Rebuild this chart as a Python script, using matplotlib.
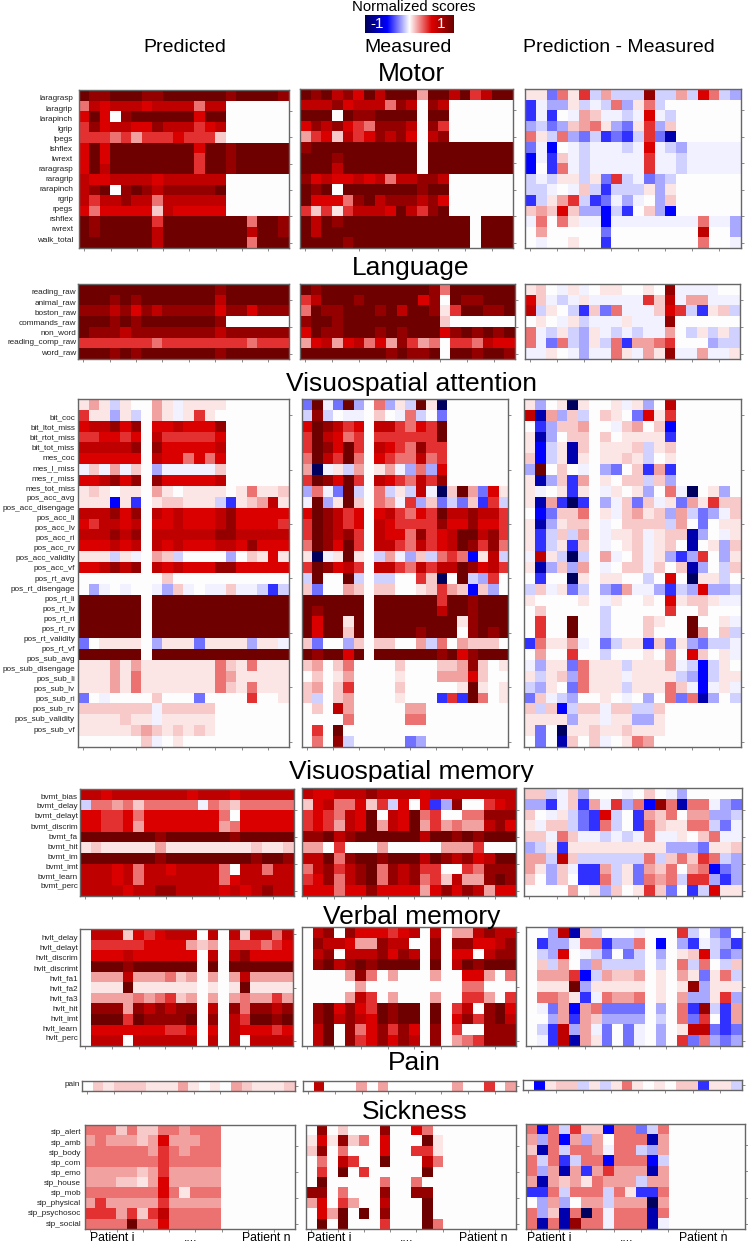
import numpy as np
import matplotlib
matplotlib.use("Agg")
import matplotlib.pyplot as plt
from matplotlib.colors import LinearSegmentedColormap
from matplotlib.transforms import Bbox

plt.rcParams['font.family'] = ['Liberation Sans', 'DejaVu Sans']

# Cell levels, one character per cell, one string per row
LEVELS = {'0': 0, '1': .053, '2': .108, '3': .186, '4': .28, '5': .405, '6': .5, '7': .625, '8': .82, '9': .98,
          'a': -.03, 'b': -.09, 'c': -.167, 'd': -.28, 'e': -.405, 'f': -.5, 'g': -.74, 'h': -.98}

motor_labels = ['laragrasp', 'laragrip', 'larapinch', 'lgrip', 'lpegs', 'lshflex', 'lwrext', 'raragrasp',
                'raragrip', 'rarapinch', 'rgrip', 'rpegs', 'rshflex', 'rwrext', 'walk_total']
motor_pred = ['98899988999999899998', '47677767777477', '69608999999699', '58677668777567', '55545355565552',
              '69699999999699899999', '69699999999599899999', '69799999999599899999', '76677776777777',
              '78908987888889', '75778774777777', '64666662766666', '98999995999999994998',
              '98999997999999997998', '99999997999999994999']
motor_meas = ['98978697999399795799', '77786777487087', '99909889999099', '68786548887085', '35627568786078',
              '89999999999099999999', '99989999999099999999', '99979999999099999999', '86766767477887',
              '98909999999899', '96664897888786', '52515777697589', '97989999999999990999',
              '97999999999999990999', '99998999999999990999']
motor_diff = ['11d415b3bbb8bb3b64bc', 'eacc1bab4c14b', 'eae0a32aaba6ab', 'cbdc2341cd15c2', '41b4cdbedeb5dg',
              'daf0abaaaba6abcaaaaa', 'fae2abaaaaa5aabaaaaa', 'f0e4abaaaaa5aabaaaaa', 'bab11b1d5badcb',
              'bba0a2bebbb1c1', 'eb135bedaca0c2', '23262ccfbe02cf', 'a4041aafaaaaaaaa4aac',
              '0300000d00000000700c', '0a00100e00000000400a']

language_labels = ['reading_raw', 'animal_raw', 'boston_raw', 'commands_raw', 'non_word', 'reading_comp_raw', 'word_raw']
language_pred = ['99999999999998999999', '99989899999997999999', '88878687888886886888', '99989899999998',
                 '98887888888887888888', '55555554555555554555', '99989899999998999999']
language_meas = ['98999999999984999999', '57999899999680988999', '49889998979981599889', '89989999999992',
                 '69889998989996898989', '36736746385340554766', '99999999898890998998']
language_diff = ['120a1a01100108aaaa00', '62aba1aaaaa527a33aaa', '7b10be2d4aaa265be12b', '010a1baaa1aaa8',
                 '4ab1bc1ababaa30b1b1b', '4ad4bc1b4e3345000cbb', 'aa10acaa41a318aa3aa1']

attention_labels = ['bit_coc', 'bit_ltot_miss', 'bit_rtot_miss', 'bit_tot_miss', 'mes_coc', 'mes_l_miss', 'mes_r_miss',
                    'mes_tot_miss', 'pos_acc_avg', 'pos_acc_disengage', 'pos_acc_li', 'pos_acc_lv', 'pos_acc_ri',
                    'pos_acc_rv', 'pos_acc_validity', 'pos_acc_vf', 'pos_rt_avg', 'pos_rt_disengage', 'pos_rt_li',
                    'pos_rt_lv', 'pos_rt_ri', 'pos_rt_rv', 'pos_rt_validity', 'pos_rt_vf', 'pos_sub_avg',
                    'pos_sub_disengage', 'pos_sub_li', 'pos_sub_lv', 'pos_sub_ri', 'pos_sub_rv', 'pos_sub_validity',
                    'pos_sub_vf']
attention_pred = ['131b10031a1111', '511c1b031a1510', '67786806676668', '55665607555556', '77777808666667',
                  '66666607664646', 'a2a3a20caaaaa2', '66786808666667', '12101103101111014112',
                  '111f1e0122111be12371', '77786807676667866666', '65776706676667866665',
                  '77787807777778877777', '66676707676667768666', '111b1a032b0000c02161',
                  '66787807676668866666', '00000000200000000000', '0ca0a00ac2a0aa2aabeb',
                  '99999909999999999999', '99999909999999999999', '99999909999999999999',
                  '99999909999999999999', 'd011110c111d1111c11a', '99999909999999999999',
                  '11131311111114214111', '11131411111114311111', '11131411111114214111',
                  'd0a00002000d00005001', '2222222a22222', '1111211a11111', '1111123212121', '0000002a01']
attention_meas = ['d9ad9c04c1b91h', 'b8b0aa020a4b0d', '69875607754659', '59764505555559', '59869507654855',
                  '49759406544745', '3ha1b3013ac4c6', '59869507654758', 'c4ad9b04b1b7ah293d61',
                  'a9c192043a5c2dbd2e5b', '69875606754659778775', '59875607655558668665',
                  '59878507664856799785', '49869507754756798584', '1ha1910b3ac2b454f17b',
                  '59867507754757798675', 'b9009b0bb0052h09bc50', '2d00320220012532f2c0',
                  '99999909999995998999', '98999909999997998999', '96991909999999918999',
                  '96992909999899908989', '2d00c2022003b4032220', '98996909999998968999',
                  '23024000020002238201', '02013000010003336200', '23025000020000019101',
                  '2b02300001000e5e9401', '020730000033', '000040000044', '0509', '0408b00000dc']
attention_diff = ['1c01h1001a1c07', '7g3c2b0210d615', '0ec22300a2302f', '1gc0220201111e', '1fb1g201112b12',
                  '2fb1g101121b01', 'c9020a0cd02e3e', '1gc2e301022b2c', '1a01e10a101c04ah01c0',
                  '1g3ehe0ca2d2a1d31522', '0fd22401a2312c3bdca2', '1gc1220a02222b30d011',
                  '1eb2b30a112a122gc0a1', '1eb1e20a012a120g01c2', 'a71bhb03a02a1cec50c1',
                  '1gc2c30a022a202gc0b2', '0e00h101100b060h11b0', 'b2a1db0cd3aacebc6ccb',
                  '1000010a1001061221aa', '0200000b000005002000', '0500900b00021009001a',
                  '0500900b00020009302b', 'e4113a0db11e2d1cdbba', '0300500b00010306201a',
                  'ac11d4111b1113abfb10', '1b12c4111a1111bcfb11', 'bc10d4111b11142afa1a',
                  'd2abc0010a0c04d4gc0b', '2b2fb22a22bb2', '1111c11a11cc1', '1d0h112112111', '0d0g202a01430']

bvmt_labels = ['bvmt_bias', 'bvmt_delay', 'bvmt_delayt', 'bvmt_discrim', 'bvmt_fa', 'bvmt_hit', 'bvmt_im',
               'bvmt_imt', 'bvmt_learn', 'bvmt_perc']
bvmt_pred = ['77677777776777677777', 'b4434244444a43244444', '66556466666664066666', '66556366666663466666',
             '99999998999999899999', '12111113111111112112', '99999998999999998998', '77767477677774077477',
             '77767477777774677777', '77776778877776767877']
bvmt_meas = ['76677787777677777777', '26744625b606ec800567', '56547690769450044888', '56537693769353433786',
             '88978999999799898999', '33050003000003335000', '77948998999798786799', '47857894878550054888',
             '56847894878452733898', '66646686666368687366']
bvmt_diff = ['22ba2c000a020ac00000', 'ccea2e3a5c4f84g44acd', '20a1bde6b0e324033ccb', '1a22bde4b0e421144bda',
             '22a42aababa4aa1024aa', 'cb1e111111111cccd112', '33b72bbbbbb4b24254bc', '31c2aee3b1d324034fdc',
             '20c20ee4b1d434b55cec', '0000301c20152d0eb611']

hvlt_labels = ['hvlt_delay', 'hvlt_delayt', 'hvlt_discrim', 'hvlt_discrimt', 'hvlt_fa1', 'hvlt_fa2', 'hvlt_fa3',
               'hvlt_hit', 'hvlt_imt', 'hvlt_learn', 'hvlt_perc']
hvlt_pred = ['07772656777070727747', '05555566663230555456', '06667666666070786666', '09998999999090999999',
             '03337333423030373333', '01119111111010191111', '03333434523030343353', '08883878788070848878',
             '09995988889080759989', '06666666556060766656', '07770777777070707777']
hvlt_meas = ['07808666567070337877', '08776338770080886678', '07807778687080660788', '08978989999090798999',
             '00003840300030066304', '00000300000000044000', '00003750300030055305', '08968659899090570896',
             '08978769899090685897', '07908468586080500888', '07908568687080345888']
hvlt_diff = ['00c7g2b000a0005b0cd0', '0ecca44ecc40f0ceabce', '0bc60abd0db0c0126bdc', '02b30c3bbbb0b04b40b2',
             '03335fb322301031d14b', '01119c1111101018c111', '04431ea43340103cc15c', '0ad3f34dddd0c04e8be3',
             '00c3e32cccc0b04d50e3', '0be7c3ad0da0c0177ded', '0ae7g31d0da0c05d4cdc']

pain_labels = ['pain']
pain_pred = ['02122211131010321112']
pain_meas = ['07000303000000300503']
pain_diff = ['0f122b1b14101022e11b']

sip_labels = ['sip_alert', 'sip_amb', 'sip_body', 'sip_com', 'sip_emo', 'sip_house', 'sip_mob', 'sip_physical',
              'sip_psychosoc', 'sip_social']
sip_pred = ['4442422443444', '3433323633344', '4444443543444', '4444444544444', '3333323533333',
            '3332213633333', '4444444641444', '3533333533333', '5553525744444', '4444944644444']
sip_meas = ['0802000800640', '1618240600091', '2804000600551', '0407500900074', '0509050000090',
            '0900000400400', '8804000800880', '3605300700090', '0639090800090', '0909000500094']
sip_diff = ['4f4b522f44db4', '3c4f3c30444g3', '2g4b443a44bc3', '4b4eb44f444fb', '4c3g3e35333g3',
            '3g32314333b33', 'ee4b444b41ee4', '0c3c033b333h3', '4c2g4h4a444g4', '4g4g844a444ga']

column_titles = ['Predicted', 'Measured', 'Prediction - Measured']
patient_labels = ['Patient i', '....', 'Patient n']

W, H = 748, 1244
cmap = LinearSegmentedColormap.from_list('scores', ['#00005a', '#0000ff', '#ffffff', '#dd0000', '#6b0000'])
fig = plt.figure(figsize=(W / 100, H / 100), dpi=100)


def px_axes(left, top, right, bottom):
    return fig.add_axes([left / W, 1 - bottom / H, (right - left) / W, (bottom - top) / H])


def px_text(x, y, s, **kw):
    return fig.text(x / W, 1 - y / H, s, **kw)


def decode(rows):
    return np.array([[LEVELS[c] for c in r.ljust(20, '0')] for r in rows])


def draw_panel(box, rows, right_ticks):
    ax = px_axes(*box)
    ax.imshow(decode(rows), cmap=cmap, vmin=-1, vmax=1, aspect='auto', interpolation='nearest')
    ax.set_xticks(np.arange(0, 20, 2.5))
    ax.set_xticklabels([])
    ax.set_yticks(right_ticks)
    ax.set_yticklabels([])
    ax.yaxis.tick_right()
    ax.tick_params(length=2.2, width=0.6, color='#777777')
    for s in ax.spines.values():
        s.set_color('#666666')
        s.set_linewidth(1)
    return ax


# title, title centre x/y, row labels, label right edge, first/last label y, y ticks, panels
sections = [
    ('Motor', 412, 74, motor_labels, 73, 99, 240, np.arange(1.5, 14.1, 2.5),
     [((79, 90, 289, 248), motor_pred), ((300, 89, 513, 248), motor_meas), ((525, 89, 741, 248), motor_diff)]),
    ('Language', 411, 268, language_labels, 76.5, 293, 353, [1, 3.5, 6],
     [((78, 284, 289, 359), language_pred), ((300, 284, 515, 359), language_meas), ((525, 284, 740, 359), language_diff)]),
    ('Visuospatial attention', 411, 384, attention_labels, 75, 418, 730, np.arange(1, 32, 5),
     [((78, 399, 289, 747), attention_pred), ((302, 399, 508, 747), attention_meas), ((524, 399, 741, 747), attention_diff)]),
    ('Visuospatial memory', 411, 772, bvmt_labels, 78, 797, 887, [1.5, 4, 6.5, 9],
     [((80, 789, 294, 896), bvmt_pred), ((302, 788, 516, 896), bvmt_meas), ((524, 788, 742, 896), bvmt_diff)]),
    ('Verbal memory', 411.5, 917, hvlt_labels, 78, 938, 1039, [0, 5, 10],
     [((80, 929, 293, 1046), hvlt_pred), ((302, 927, 516, 1046), hvlt_meas), ((526, 927, 742, 1046), hvlt_diff)]),
    ('Pain', 414, 1063, pain_labels, 79.5, 1085, 1085, [0],
     [((82, 1081, 295, 1091), pain_pred), ((303, 1081, 516, 1091), pain_meas), ((523, 1080, 742, 1090), pain_diff)]),
    ('Sickness', 415, 1112, sip_labels, 81, 1133, 1224, [1.5, 4, 6.5, 9],
     [((85, 1125, 295, 1229), sip_pred), ((306, 1125, 516, 1229), sip_meas), ((526, 1124, 745, 1229), sip_diff)]),
]

for name, tx, ty, labels, lx, ly0, ly1, yticks, panels in sections:
    t = px_text(tx, ty, name, fontsize=19, ha='center', va='center', color='black')
    if name == 'Visuospatial memory':
        # bottom of this title is cut off in the original
        t.set_clip_box(Bbox([[0, H - 782], [W, H]]))
        t.set_clip_on(True)
    ys = np.linspace(ly0, ly1, len(labels))
    for lab, y in zip(labels, ys):
        px_text(lx, y, lab, fontsize=5.9, ha='right', va='center', color='#222222')
    for box, rows in panels:
        draw_panel(box, rows, yticks)

# Column titles
for s, x in zip(column_titles, [185, 408.5, 618.5]):
    px_text(x, 48, s, fontsize=14, ha='center', va='center')

# Patient axis captions
for xs in ([112, 191, 266.5], [329, 407, 483], [549, 627, 703]):
    for s, x in zip(patient_labels, xs):
        px_text(x, 1238, s, fontsize=8.8, ha='center', va='center')

# Colorbar
cax = px_axes(364.5, 15, 453.5, 33.5)
cax.imshow(np.linspace(-1, 1, 256)[None, :], cmap=cmap, vmin=-1, vmax=1, aspect='auto', extent=[-1.15, 1.15, 0, 1])
cax.set_xticks([])
cax.set_yticks([])
for s in cax.spines.values():
    s.set_visible(False)
cax.text(-0.82, 0.5, '-1', color='white', fontsize=11, ha='center', va='center')
cax.text(0.82, 0.5, '1', color='white', fontsize=11, ha='center', va='center')
px_text(414, 7, 'Normalized scores', fontsize=10.7, ha='center', va='center')

fig.savefig('out.png', dpi=100)
